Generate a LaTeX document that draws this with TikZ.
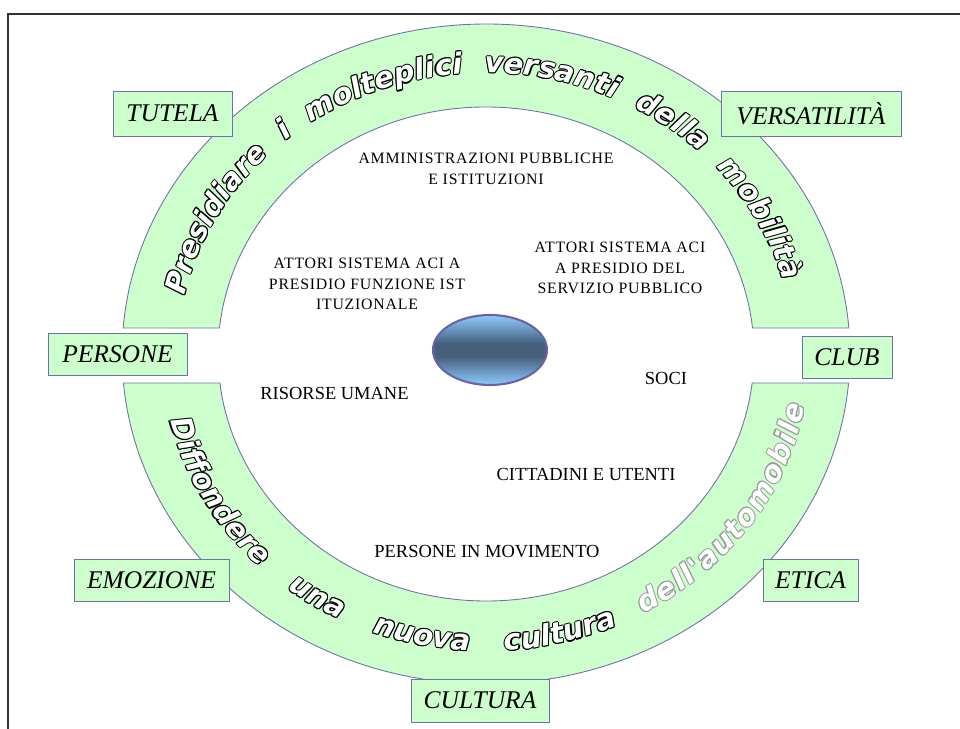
\documentclass[tikz,border=0pt]{standalone}
\usepackage{fontspec}
\setmainfont{Liberation Serif}
\newfontfamily\arcfont{DejaVu Sans}
\usetikzlibrary{shapes.geometric,decorations.text}
\definecolor{ringgreen}{RGB}{204,255,204}
\definecolor{ringline}{RGB}{112,112,170}
\definecolor{hubdark}{RGB}{70,96,124}
\definecolor{hubmid}{RGB}{100,140,180}
\definecolor{hublight}{RGB}{142,202,250}
\definecolor{hubline}{RGB}{104,98,168}
\pgfdeclareverticalshading{hubshade}{100bp}{color(0bp)=(hublight); color(25bp)=(hublight); color(37bp)=(hubmid); color(45bp)=(hubdark); color(55bp)=(hubdark); color(63bp)=(hubmid); color(75bp)=(hublight); color(100bp)=(hublight)}
\tikzset{
  keybox/.style={draw=ringline, fill=ringgreen, minimum height=0.84cm, inner sep=0pt, font=\fontsize{14.5}{16}\selectfont\itshape},
  actor/.style={align=center, font=\fontsize{9}{11.6}\selectfont\addfontfeatures{LetterSpace=5}},
  group/.style={font=\fontsize{10.5}{12}\selectfont},
  arcword/.style n args={3}{decorate, decoration={text along path, text color=#1,
      text={|\arcfont\bfseries\itshape\fontsize{16.5}{18}\selectfont|#2}, text align={#3}}}
}
\begin{document}
\begin{tikzpicture}[x=0.02cm, y=0.02cm]
\useasboundingbox (-486,-375) rectangle (474,354);
% frame
\draw[line width=0.9pt, black!80] (-478,-375) -- (-478,340) -- (474,340);
% the two halves of the ring
\draw[ringline, fill=ringgreen, line width=0.5pt] (4.52:364 and 330) arc[start angle=4.52, end angle=175.48, x radius=364, y radius=330] -- (173.96:268 and 247) arc[start angle=173.96, end angle=6.04, x radius=268, y radius=247] -- cycle;
\draw[ringline, fill=ringgreen, line width=0.5pt] (185.04:364 and 330) arc[start angle=185.04, end angle=354.96, x radius=364, y radius=330] -- (353.26:268 and 247) arc[start angle=353.26, end angle=186.74, x radius=268, y radius=247] -- cycle;
% lettering along the ring
\foreach \dx/\dy in {0.6/0,-0.6/0,0/0.6,0/-0.6,0.42/0.42,-0.42/0.42,0.42/-0.42,-0.42/-0.42}{
  \path[arcword={black}{Presidiare i molteplici versanti della mobilità}{fit to path stretching spaces}] ([shift={(\dx pt,\dy pt)}]168:308 and 281) arc[start angle=168, end angle=15, x radius=308, y radius=281];
  \path[arcword={black}{Diffondere una nuova cultura}{fit to path stretching spaces}] ([shift={(\dx pt,\dy pt)}]193:324 and 297) arc[start angle=193, end angle=294, x radius=324, y radius=297];
  \path[arcword={black!40}{dell'automobile}{fit to path}] ([shift={(\dx pt,\dy pt)}]299:324 and 297) arc[start angle=299, end angle=350, x radius=324, y radius=297];
}
\path[arcword={white}{Presidiare i molteplici versanti della mobilità}{fit to path stretching spaces}] (168:308 and 281) arc[start angle=168, end angle=15, x radius=308, y radius=281];
\path[arcword={white}{Diffondere una nuova cultura}{fit to path stretching spaces}] (193:324 and 297) arc[start angle=193, end angle=294, x radius=324, y radius=297];
\path[arcword={white}{dell'automobile}{fit to path}] (299:324 and 297) arc[start angle=299, end angle=350, x radius=324, y radius=297];
% boxes round the ring
\node[keybox, minimum width=2.38cm, minimum height=0.9cm] (tutela) at (-313.5,240.5) {TUTELA};
\node[keybox, minimum width=3.6cm, minimum height=0.9cm] (versatilita) at (325,240.5) {VERSATILITÀ};
\node[keybox, minimum width=2.78cm] (persone) at (-368.5,0) {PERSONE};
\node[keybox, minimum width=1.8cm] (club) at (361,-3) {CLUB};
\node[keybox, minimum width=3.1cm] (emozione) at (-334.5,-226) {EMOZIONE};
\node[keybox, minimum width=1.9cm] (etica) at (324.5,-226) {ETICA};
\node[keybox, minimum width=2.76cm, minimum height=0.86cm] (cultura) at (-6,-346.5) {CULTURA};
% inside the ring
\node[actor] (enti) at (0,185) {AMMINISTRAZIONI PUBBLICHE\\E ISTITUZIONI};
\node[actor] (istituzione) at (-119,70) {ATTORI SISTEMA ACI A\\PRESIDIO FUNZIONE IST\\ITUZIONALE};
\node[actor] (servizio) at (134,86) {ATTORI SISTEMA ACI\\A PRESIDIO DEL\\SERVIZIO PUBBLICO};
\node[ellipse, draw=hubline, line width=1.2pt, minimum width=2.28cm, minimum height=1.4cm, shading=hubshade] (hub) at (4,4) {};
\node[group] (risorse) at (-151.5,-39) {RISORSE UMANE};
\node[group] (soci) at (180,-24) {SOCI};
\node[group] (utenti) at (100,-120) {CITTADINI E UTENTI};
\node[group] (movimento) at (1,-198) {PERSONE IN MOVIMENTO};
\end{tikzpicture}
\end{document}
